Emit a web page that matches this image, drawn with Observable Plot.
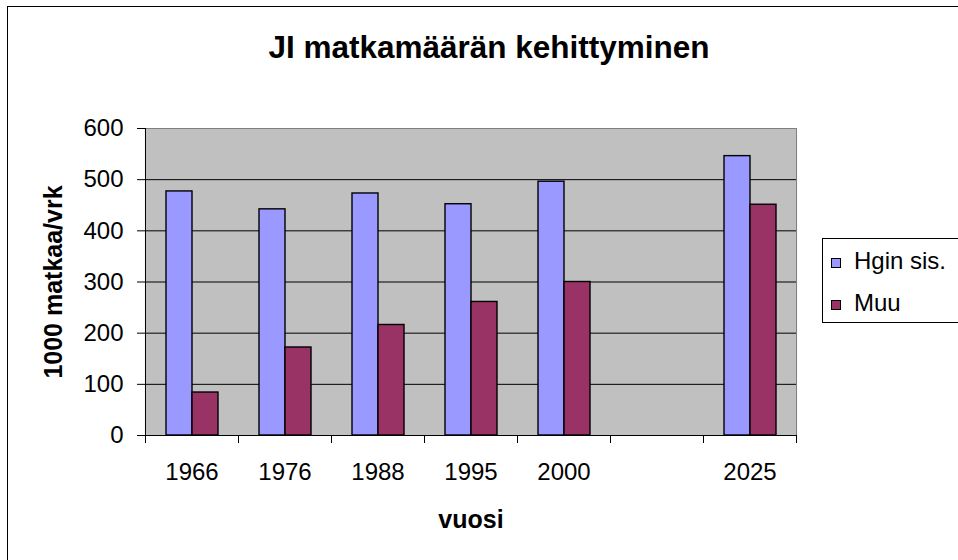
<!DOCTYPE html>
<html>
<head>
<meta charset="utf-8">
<script src="https://cdn.jsdelivr.net/npm/d3@7"></script>
<script src="https://cdn.jsdelivr.net/npm/@observablehq/plot@0.6"></script>
<style>
  html, body { margin: 0; padding: 0; background: #fff; }
  #wrap { position: relative; width: 958px; height: 560px; overflow: hidden;
          font-family: "Liberation Sans", Arial, sans-serif; background: #fff; }
  #border { position: absolute; left: 7px; top: 6px; width: 1200px; height: 1200px;
            border-left: 1px solid #000; border-top: 1px solid #000; }
  #title { position: absolute; left: 0; width: 978px; top: 32px; text-align: center;
           font-weight: bold; font-size: 31.5px; line-height: 1; color: #000; white-space: nowrap; }
  #chart { position: absolute; left: 0; top: 0; }
  #legend { position: absolute; left: 822px; top: 238px; width: 170px; height: 83px;
            border: 1px solid #000; background: #fff; }
  .sw { position: absolute; left: 8px; width: 8px; height: 8px; border: 1px solid #000; }
  .lt { position: absolute; left: 31px; font-size: 24px; line-height: 1; white-space: nowrap; color: #000; }
  #chart g[aria-label="y-axis label"], #chart g[aria-label="fx-axis label"] { font-weight: bold; font-size: 25px; }
</style>
</head>
<body>
<div id="wrap">
  <div id="border"></div>
  <div id="title"></div>
  <div id="chart"></div>
  <div id="legend"></div>
</div>
<script>
// ---- data ----
const years = ["1966", "1976", "1988", "1995", "2000", " ", "2025"];
const seriesNames = ["Hgin sis.", "Muu"];
const hginValues = [477, 442, 473, 452, 496, null, 546];
const muuValues = [84, 172, 216, 261, 300, null, 451];
const seriesColors = ["#9999FF", "#993366"];
const yTicks = [0, 100, 200, 300, 400, 500, 600];
const gridValues = [100, 200, 300, 400, 500];
const chartTitle = "JI matkamäärän kehittyminen";
const xLabel = "vuosi";
const yLabel = "1000 matkaa/vrk";

// ---- table built from the arrays ----
const rows = [];
years.forEach((yr, i) => {
  rows.push({year: yr, series: seriesNames[0], value: hginValues[i]});
  rows.push({year: yr, series: seriesNames[1], value: muuValues[i]});
});

document.getElementById("title").textContent = chartTitle;

const W = 958, H = 560;
const mL = 143, mR = 161, mT = 128, mB = 125;
const plotH = H - mT - mB;

const chart = Plot.plot({
  width: W,
  height: H,
  marginLeft: mL,
  marginRight: mR,
  marginTop: mT,
  marginBottom: mB,
  style: {fontFamily: "'Liberation Sans', Arial, sans-serif", fontSize: "24px", background: "transparent", color: "#000", overflow: "visible"},
  fx: {domain: years, padding: 0},
  x: {domain: seriesNames, paddingInner: 0, paddingOuter: 0.75, axis: null},
  y: {domain: [0, 600]},
  color: {domain: seriesNames, range: seriesColors},
  marks: [
    Plot.frame({fill: "#C0C0C0", stroke: null, insetLeft: -0.6, insetRight: -0.6}),
    Plot.ruleY(gridValues, {stroke: "#000", strokeWidth: 1}),
    Plot.ruleY([600], {stroke: "#808080", strokeWidth: 1}),
    Plot.barY(rows, {fx: "year", x: "series", y: "value", fill: "series", stroke: "#000", strokeWidth: 1.4}),
    Plot.ruleY([0], {stroke: "#000", strokeWidth: 1}),
    Plot.frame({anchor: "left", stroke: "#000", insetTop: plotH, insetBottom: -7}),
    Plot.frame({anchor: "right", stroke: "#808080", fx: "2025"}),
    Plot.frame({anchor: "right", stroke: "#000", insetTop: plotH, insetBottom: -7, fx: "2025"}),
    Plot.frame({anchor: "left", stroke: "#000", fx: "1966"}),
    Plot.axisY({ticks: yTicks, tickSize: 8, tickPadding: 14, tickFormat: d => String(d),
                label: yLabel, labelAnchor: "center", labelOffset: 101, labelArrow: "none", stroke: "#000"}),
    Plot.axisFx({anchor: "bottom", tickSize: 0, tickPadding: 27, label: xLabel, labelAnchor: "center", labelOffset: 92, labelArrow: "none"})
  ]
});
document.getElementById("chart").appendChild(chart);

// ---- legend (HTML) ----
const legend = document.getElementById("legend");
seriesNames.forEach((name, i) => {
  const sw = document.createElement("div");
  sw.className = "sw";
  sw.style.top = (19 + 42 * i) + "px";
  sw.style.background = seriesColors[i];
  legend.appendChild(sw);
  const t = document.createElement("div");
  t.className = "lt";
  t.style.top = (10 + 42 * i) + "px";
  t.textContent = name;
  legend.appendChild(t);
});
</script>
</body>
</html>
